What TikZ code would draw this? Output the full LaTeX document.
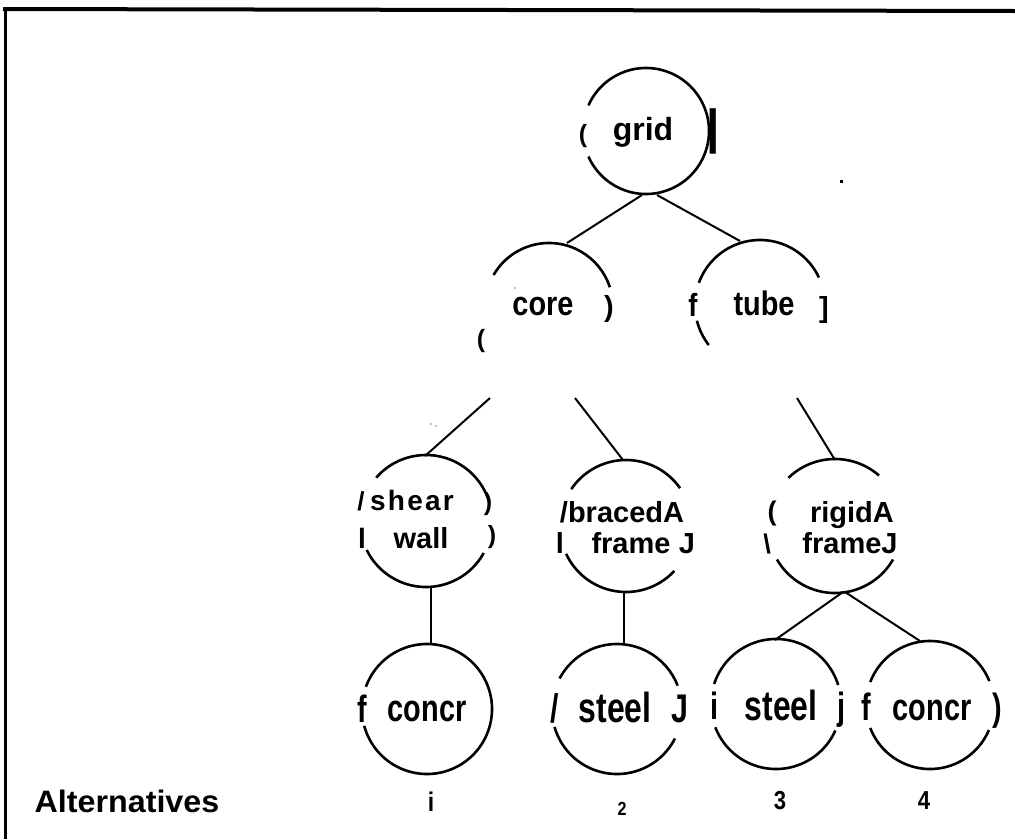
\documentclass[tikz,border=0pt]{standalone}
\usepackage{fontspec}
\setmainfont{Liberation Sans}
\newcommand\ringarc[4]{\draw[ring] (#1) ++(#2:#4) arc[start angle=#2,end angle=#3,radius=#4];}
\begin{document}
\begin{tikzpicture}[x=1pt,y=-1pt,
  ring/.style={line width=2.6pt},
  link/.style={line width=2pt},
  txt/.style={inner sep=0pt, anchor=base, font=\bfseries\fontsize{#1}{#1}\selectfont},
  txt/.default=28,
  cond/.style={xscale=0.76},
  semi/.style={xscale=0.85}]
\useasboundingbox (0,0) rectangle (1015,839);

% frame edges
\draw[line width=4pt] (3,9) -- (1015,11);
\draw[line width=3pt] (5,7) -- (5,839);

% circle centres
\coordinate (G) at (646,131);
\coordinate (C) at (549,307);
\coordinate (T) at (760,305);
\coordinate (S) at (426,521);
\coordinate (B) at (626,526);
\coordinate (R) at (835,526);
\coordinate (K1) at (427,709);
\coordinate (K2) at (617,709);
\coordinate (K3) at (776,704);
\coordinate (K4) at (930,705);

% circle outlines (broken where the lettering sits)
\ringarc{G}{204}{516}{63}
\ringarc{C}{210}{342}{64}
\ringarc{T}{200}{335}{65}
\ringarc{T}{142}{166}{65}
\ringarc{S}{221}{344}{66}
\ringarc{S}{29}{154}{66}
\ringarc{B}{214}{325}{66}
\ringarc{B}{43}{155}{66}
\ringarc{R}{226}{311}{67}
\ringarc{R}{30}{150}{67}
\ringarc{K1}{200}{525}{65}
\ringarc{K2}{208}{339}{65}
\ringarc{K2}{27}{164}{65}
\ringarc{K3}{198}{343}{65}
\ringarc{K3}{24}{159}{65}
\ringarc{K4}{201}{338}{64}
\ringarc{K4}{23}{159}{64}

% connector end points
\coordinate (g1) at (642,195); \coordinate (c1) at (567,243);
\coordinate (g2) at (657,195); \coordinate (t1) at (740,241);
\coordinate (c2) at (490,398); \coordinate (s1) at (425,456);
\coordinate (c3) at (575,398); \coordinate (b1) at (623,460);
\coordinate (t2) at (797,398); \coordinate (r1) at (835,460);
\coordinate (s2) at (431,587); \coordinate (k1) at (431,644);
\coordinate (b2) at (624,592); \coordinate (k2) at (624,644);
\coordinate (r2) at (843,592); \coordinate (k3) at (775,640);
\coordinate (r3) at (845,592); \coordinate (k4) at (920,641);

\draw[link] (g1) -- (c1);
\draw[link] (g2) -- (t1);
\draw[link] (c2) -- (s1);
\draw[link] (c3) -- (b1);
\draw[link] (t2) -- (r1);
\draw[link] (s2) -- (k1);
\draw[link] (b2) -- (k2);
\draw[link] (r2) -- (k3);
\draw[link] (r3) -- (k4);

% lettering: top level
\node[txt=25] (ga) at (583,142) {(};
\node[txt=32] (gb) at (643,140) {grid};
\node[txt=48] (gc) at (713,143) {|};

% second level
\node[txt=34,semi] (ca) at (543,315) {core};
\node[txt=29] (cb) at (609,316) {)};
\node[txt=25] (cc) at (481,347) {(};
\node[txt=32,semi] (ta) at (693,316) {f};
\node[txt=34,semi] (tb) at (764,315) {tube};
\node[txt=29] (tc) at (824,317) {]};

% third level
\node[txt=26] (sa) at (361,510) {/};
\node[txt=28] (sb) at (412,510) {\addfontfeature{LetterSpace=8}shear};
\node[txt=25] (sc) at (488,510) {)};
\node[txt=28] (sd) at (362,548) {l};
\node[txt=29] (se) at (421,548) {wall};
\node[txt=25] (sf) at (492,543) {)};

\node[txt=29] (ba) at (622,522) {/bracedA};
\node[txt=29] (bb) at (560,553) {l};
\node[txt=29] (bc) at (631,553) {frame};
\node[txt=29] (bd) at (687,553) {J};

\node[txt=27] (ra) at (772,520) {(};
\node[txt=29] (rb) at (852,522) {rigidA};
\node[txt=27] (rc) at (767,553) {\textbackslash};
\node[txt=29] (rd) at (850,553) {frameJ};

% bottom level
\node[txt=38,cond] (ka) at (362,722) {f};
\node[txt=38,cond] (kb) at (427,721) {concr};
\node[txt=40,cond] (kc) at (555,722) {/};
\node[txt=42,cond] (kd) at (615,722) {steel};
\node[txt=40,cond] (ke) at (680,722) {J};
\node[txt=38,cond] (kf) at (715,719) {i};
\node[txt=42,cond] (kg) at (781,720) {steel};
\node[txt=38,cond] (kh) at (842,719) {j};
\node[txt=38,cond] (ki) at (866,720) {f};
\node[txt=38,cond] (kj) at (932,720) {concr};
\node[txt=38,cond] (kk) at (997,720) {)};

% alternative numbers
\node[txt=31,xscale=1.04] (alt) at (127,812) {Alternatives};
\node[txt=27,semi] (n1) at (431,811) {i};
\node[txt=19,semi] (n2) at (622,815) {2};
\node[txt=26,semi] (n3) at (780,809) {3};
\node[txt=26,semi] (n4) at (924,809) {4};

% specks
\fill (840,180) rectangle ++(3,3);
\fill[black!50] (515,288) circle[radius=0.8];
\fill[black!50] (431,424) circle[radius=0.8];
\fill[black!50] (436,426) circle[radius=0.8];
\end{tikzpicture}
\end{document}
